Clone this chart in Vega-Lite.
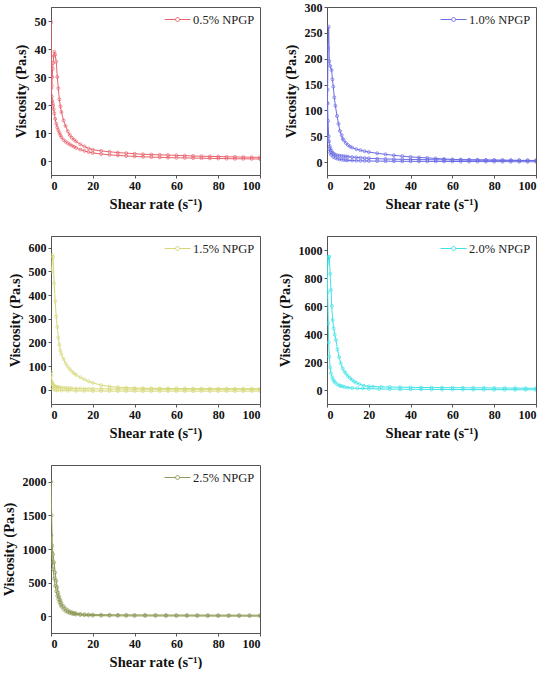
{
  "$schema": "https://vega.github.io/schema/vega-lite/v6.json",
  "padding": {"left": 0, "top": 0, "right": 0, "bottom": 0},
  "datasets": {
    "p1": [
      {"x":0.4,"y":27,"c":"a"},{"x":0.6,"y":30,"c":"a"},{"x":0.8,"y":33,"c":"a"},{"x":1,"y":35,"c":"a"},{"x":1.3,"y":37.5,"c":"a"},{"x":1.6,"y":39,"c":"a"},{"x":2,"y":38,"c":"a"},{"x":2.5,"y":35.5,"c":"a"},{"x":3,"y":30,"c":"a"},{"x":3.5,"y":26,"c":"a"},{"x":4,"y":22,"c":"a"},{"x":4.5,"y":19.5,"c":"a"},{"x":5,"y":17.5,"c":"a"},{"x":6,"y":14.5,"c":"a"},{"x":7,"y":12.5,"c":"a"},{"x":8,"y":10.6,"c":"a"},{"x":9,"y":9.3,"c":"a"},{"x":10,"y":8.3,"c":"a"},{"x":11,"y":7.6,"c":"a"},{"x":12,"y":7,"c":"a"},{"x":14,"y":6,"c":"a"},{"x":16,"y":5.2,"c":"a"},{"x":18,"y":4.5,"c":"a"},{"x":20,"y":4,"c":"a"},{"x":24,"y":3.6,"c":"a"},{"x":28,"y":3.3,"c":"a"},{"x":32,"y":3,"c":"a"},{"x":36,"y":2.8,"c":"a"},{"x":40,"y":2.6,"c":"a"},{"x":44,"y":2.4,"c":"a"},{"x":48,"y":2.3,"c":"a"},{"x":52,"y":2.2,"c":"a"},{"x":56,"y":2.1,"c":"a"},{"x":60,"y":2,"c":"a"},{"x":64,"y":1.9,"c":"a"},{"x":68,"y":1.8,"c":"a"},{"x":72,"y":1.7,"c":"a"},{"x":76,"y":1.65,"c":"a"},{"x":80,"y":1.6,"c":"a"},{"x":84,"y":1.5,"c":"a"},{"x":88,"y":1.45,"c":"a"},{"x":92,"y":1.4,"c":"a"},{"x":96,"y":1.35,"c":"a"},{"x":100,"y":1.3,"c":"a"},
      {"x":0.1,"y":49.5,"c":"b"},{"x":0.2,"y":26,"c":"b"},{"x":0.4,"y":23,"c":"b"},{"x":0.6,"y":21.5,"c":"b"},{"x":0.8,"y":20.5,"c":"b"},{"x":1,"y":19.8,"c":"b"},{"x":1.3,"y":18.5,"c":"b"},{"x":1.6,"y":17,"c":"b"},{"x":2,"y":15,"c":"b"},{"x":2.5,"y":13.3,"c":"b"},{"x":3,"y":12,"c":"b"},{"x":3.5,"y":11,"c":"b"},{"x":4,"y":10,"c":"b"},{"x":4.5,"y":9.2,"c":"b"},{"x":5,"y":8.5,"c":"b"},{"x":6,"y":7.5,"c":"b"},{"x":7,"y":6.9,"c":"b"},{"x":8,"y":6.4,"c":"b"},{"x":9,"y":5.9,"c":"b"},{"x":10,"y":5.5,"c":"b"},{"x":11,"y":5.1,"c":"b"},{"x":12,"y":4.7,"c":"b"},{"x":14,"y":4.1,"c":"b"},{"x":16,"y":3.6,"c":"b"},{"x":18,"y":3.2,"c":"b"},{"x":20,"y":2.9,"c":"b"},{"x":24,"y":2.5,"c":"b"},{"x":28,"y":2.2,"c":"b"},{"x":32,"y":2,"c":"b"},{"x":36,"y":1.8,"c":"b"},{"x":40,"y":1.65,"c":"b"},{"x":44,"y":1.5,"c":"b"},{"x":48,"y":1.4,"c":"b"},{"x":52,"y":1.3,"c":"b"},{"x":56,"y":1.2,"c":"b"},{"x":60,"y":1.15,"c":"b"},{"x":64,"y":1.1,"c":"b"},{"x":68,"y":1.05,"c":"b"},{"x":72,"y":1,"c":"b"},{"x":76,"y":0.95,"c":"b"},{"x":80,"y":0.9,"c":"b"},{"x":84,"y":0.85,"c":"b"},{"x":88,"y":0.8,"c":"b"},{"x":92,"y":0.78,"c":"b"},{"x":96,"y":0.75,"c":"b"},{"x":100,"y":0.7,"c":"b"}
    ],
    "p2": [
      {"x":0.1,"y":40,"c":"a"},{"x":0.3,"y":140,"c":"a"},{"x":0.5,"y":220,"c":"a"},{"x":0.8,"y":262,"c":"a"},{"x":1.1,"y":195,"c":"a"},{"x":1.5,"y":186,"c":"a"},{"x":2.2,"y":178,"c":"a"},{"x":2.6,"y":160,"c":"a"},{"x":3,"y":146,"c":"a"},{"x":3.5,"y":125,"c":"a"},{"x":4,"y":109,"c":"a"},{"x":4.8,"y":89,"c":"a"},{"x":5.5,"y":74,"c":"a"},{"x":6.2,"y":60,"c":"a"},{"x":7,"y":52,"c":"a"},{"x":7.5,"y":45,"c":"a"},{"x":8,"y":42,"c":"a"},{"x":9,"y":37,"c":"a"},{"x":10,"y":33,"c":"a"},{"x":11,"y":30,"c":"a"},{"x":12,"y":28,"c":"a"},{"x":14,"y":25,"c":"a"},{"x":16,"y":23,"c":"a"},{"x":18,"y":21,"c":"a"},{"x":20,"y":19.4,"c":"a"},{"x":24,"y":17,"c":"a"},{"x":28,"y":15,"c":"a"},{"x":32,"y":13,"c":"a"},{"x":36,"y":11.5,"c":"a"},{"x":40,"y":10,"c":"a"},{"x":44,"y":9,"c":"a"},{"x":48,"y":8,"c":"a"},{"x":52,"y":7,"c":"a"},{"x":56,"y":6,"c":"a"},{"x":60,"y":5.2,"c":"a"},{"x":64,"y":4.8,"c":"a"},{"x":68,"y":4.5,"c":"a"},{"x":72,"y":4.2,"c":"a"},{"x":76,"y":4,"c":"a"},{"x":80,"y":3.8,"c":"a"},{"x":84,"y":3.6,"c":"a"},{"x":88,"y":3.4,"c":"a"},{"x":92,"y":3.2,"c":"a"},{"x":96,"y":3.1,"c":"a"},{"x":100,"y":3,"c":"a"},
      {"x":0.1,"y":115,"c":"b"},{"x":0.3,"y":113,"c":"b"},{"x":0.5,"y":80,"c":"b"},{"x":0.8,"y":50,"c":"b"},{"x":1,"y":40,"c":"b"},{"x":1.3,"y":31,"c":"b"},{"x":1.6,"y":26,"c":"b"},{"x":2,"y":22,"c":"b"},{"x":2.5,"y":19,"c":"b"},{"x":3,"y":16.5,"c":"b"},{"x":3.5,"y":15,"c":"b"},{"x":4,"y":14,"c":"b"},{"x":5,"y":13,"c":"b"},{"x":6,"y":12.3,"c":"b"},{"x":7,"y":11.8,"c":"b"},{"x":8,"y":11.3,"c":"b"},{"x":9,"y":10.8,"c":"b"},{"x":10,"y":10.4,"c":"b"},{"x":12,"y":9.6,"c":"b"},{"x":14,"y":9,"c":"b"},{"x":16,"y":8.4,"c":"b"},{"x":18,"y":7.8,"c":"b"},{"x":20,"y":7.3,"c":"b"},{"x":24,"y":6.6,"c":"b"},{"x":28,"y":6,"c":"b"},{"x":32,"y":5.6,"c":"b"},{"x":36,"y":5.3,"c":"b"},{"x":40,"y":5,"c":"b"},{"x":44,"y":4.8,"c":"b"},{"x":48,"y":4.6,"c":"b"},{"x":52,"y":4.4,"c":"b"},{"x":56,"y":4.3,"c":"b"},{"x":60,"y":4.1,"c":"b"},{"x":64,"y":4,"c":"b"},{"x":68,"y":3.9,"c":"b"},{"x":72,"y":3.8,"c":"b"},{"x":76,"y":3.7,"c":"b"},{"x":80,"y":3.6,"c":"b"},{"x":84,"y":3.5,"c":"b"},{"x":88,"y":3.4,"c":"b"},{"x":92,"y":3.3,"c":"b"},{"x":96,"y":3.2,"c":"b"},{"x":100,"y":3.1,"c":"b"},
      {"x":1,"y":25,"c":"c"},{"x":1.5,"y":18,"c":"c"},{"x":2,"y":14,"c":"c"},{"x":3,"y":10,"c":"c"},{"x":4,"y":8,"c":"c"},{"x":5,"y":6.5,"c":"c"},{"x":6,"y":5.5,"c":"c"},{"x":7,"y":4.8,"c":"c"},{"x":8,"y":4.2,"c":"c"},{"x":9,"y":3.8,"c":"c"},{"x":10,"y":3.4,"c":"c"},{"x":12,"y":3,"c":"c"},{"x":14,"y":2.7,"c":"c"},{"x":16,"y":2.5,"c":"c"},{"x":18,"y":2.3,"c":"c"},{"x":20,"y":2.1,"c":"c"},{"x":24,"y":1.9,"c":"c"},{"x":28,"y":1.7,"c":"c"},{"x":32,"y":1.6,"c":"c"},{"x":36,"y":1.5,"c":"c"},{"x":40,"y":1.4,"c":"c"},{"x":44,"y":1.35,"c":"c"},{"x":48,"y":1.3,"c":"c"},{"x":52,"y":1.25,"c":"c"},{"x":56,"y":1.2,"c":"c"},{"x":60,"y":1.15,"c":"c"},{"x":64,"y":1.1,"c":"c"},{"x":68,"y":1.05,"c":"c"},{"x":72,"y":1,"c":"c"},{"x":76,"y":0.95,"c":"c"},{"x":80,"y":0.9,"c":"c"},{"x":84,"y":0.85,"c":"c"},{"x":88,"y":0.8,"c":"c"},{"x":92,"y":0.75,"c":"c"},{"x":96,"y":0.7,"c":"c"},{"x":100,"y":0.7,"c":"c"}
    ],
    "p3": [
      {"x":0.3,"y":500,"c":"a"},{"x":0.6,"y":570,"c":"a"},{"x":1,"y":560,"c":"a"},{"x":1.5,"y":450,"c":"a"},{"x":2,"y":375,"c":"a"},{"x":2.5,"y":310,"c":"a"},{"x":3,"y":265,"c":"a"},{"x":3.5,"y":220,"c":"a"},{"x":4,"y":190,"c":"a"},{"x":4.5,"y":165,"c":"a"},{"x":5,"y":150,"c":"a"},{"x":6,"y":130,"c":"a"},{"x":7,"y":112,"c":"a"},{"x":8,"y":98,"c":"a"},{"x":9,"y":87,"c":"a"},{"x":10,"y":77,"c":"a"},{"x":11,"y":70,"c":"a"},{"x":12,"y":63,"c":"a"},{"x":14,"y":53,"c":"a"},{"x":16,"y":44,"c":"a"},{"x":18,"y":36,"c":"a"},{"x":20,"y":29,"c":"a"},{"x":24,"y":20,"c":"a"},{"x":28,"y":14,"c":"a"},{"x":32,"y":11,"c":"a"},{"x":36,"y":9,"c":"a"},{"x":40,"y":7.5,"c":"a"},{"x":44,"y":6.8,"c":"a"},{"x":48,"y":6.3,"c":"a"},{"x":52,"y":6,"c":"a"},{"x":56,"y":5.7,"c":"a"},{"x":60,"y":5.5,"c":"a"},{"x":64,"y":5.3,"c":"a"},{"x":68,"y":5.1,"c":"a"},{"x":72,"y":5,"c":"a"},{"x":76,"y":4.9,"c":"a"},{"x":80,"y":4.8,"c":"a"},{"x":84,"y":4.7,"c":"a"},{"x":88,"y":4.6,"c":"a"},{"x":92,"y":4.5,"c":"a"},{"x":96,"y":4.4,"c":"a"},{"x":100,"y":4.3,"c":"a"},
      {"x":0.1,"y":75,"c":"b"},{"x":0.2,"y":60,"c":"b"},{"x":0.4,"y":35,"c":"b"},{"x":0.6,"y":27,"c":"b"},{"x":0.8,"y":23,"c":"b"},{"x":1,"y":21,"c":"b"},{"x":1.5,"y":17,"c":"b"},{"x":2,"y":14,"c":"b"},{"x":2.5,"y":12.5,"c":"b"},{"x":3,"y":11.5,"c":"b"},{"x":3.5,"y":11,"c":"b"},{"x":4,"y":10,"c":"b"},{"x":5,"y":9,"c":"b"},{"x":6,"y":8,"c":"b"},{"x":7,"y":7.3,"c":"b"},{"x":8,"y":6.8,"c":"b"},{"x":9,"y":6.4,"c":"b"},{"x":10,"y":6,"c":"b"},{"x":12,"y":5.5,"c":"b"},{"x":14,"y":5,"c":"b"},{"x":16,"y":4.7,"c":"b"},{"x":18,"y":4.4,"c":"b"},{"x":20,"y":4.2,"c":"b"},{"x":24,"y":3.9,"c":"b"},{"x":28,"y":3.6,"c":"b"},{"x":32,"y":3.4,"c":"b"},{"x":36,"y":3.2,"c":"b"},{"x":40,"y":3,"c":"b"},{"x":44,"y":2.9,"c":"b"},{"x":48,"y":2.8,"c":"b"},{"x":52,"y":2.7,"c":"b"},{"x":56,"y":2.6,"c":"b"},{"x":60,"y":2.55,"c":"b"},{"x":64,"y":2.5,"c":"b"},{"x":68,"y":2.45,"c":"b"},{"x":72,"y":2.4,"c":"b"},{"x":76,"y":2.35,"c":"b"},{"x":80,"y":2.3,"c":"b"},{"x":84,"y":2.25,"c":"b"},{"x":88,"y":2.2,"c":"b"},{"x":92,"y":2.15,"c":"b"},{"x":96,"y":2.1,"c":"b"},{"x":100,"y":2,"c":"b"},
      {"x":0.5,"y":10,"c":"c"},{"x":1,"y":3,"c":"c"},{"x":2,"y":-1,"c":"c"},{"x":3,"y":-2.5,"c":"c"},{"x":5,"y":-3.5,"c":"c"},{"x":8,"y":-4,"c":"c"},{"x":12,"y":-4.5,"c":"c"},{"x":16,"y":-4.8,"c":"c"},{"x":20,"y":-5,"c":"c"},{"x":24,"y":-5.1,"c":"c"},{"x":28,"y":-5.2,"c":"c"},{"x":32,"y":-5.3,"c":"c"},{"x":36,"y":-5.4,"c":"c"},{"x":40,"y":-5.5,"c":"c"},{"x":44,"y":-5.5,"c":"c"},{"x":48,"y":-5.5,"c":"c"},{"x":52,"y":-5.5,"c":"c"},{"x":56,"y":-5.5,"c":"c"},{"x":60,"y":-5.5,"c":"c"},{"x":64,"y":-5.5,"c":"c"},{"x":68,"y":-5.5,"c":"c"},{"x":72,"y":-5.5,"c":"c"},{"x":76,"y":-5.5,"c":"c"},{"x":80,"y":-5.5,"c":"c"},{"x":84,"y":-5.5,"c":"c"},{"x":88,"y":-5.5,"c":"c"},{"x":92,"y":-5.5,"c":"c"},{"x":96,"y":-5.5,"c":"c"},{"x":100,"y":-5.5,"c":"c"}
    ],
    "p4": [
      {"x":0.4,"y":900,"c":"a"},{"x":0.8,"y":950,"c":"a"},{"x":1.1,"y":952,"c":"a"},{"x":1.5,"y":830,"c":"a"},{"x":1.9,"y":714,"c":"a"},{"x":2.3,"y":600,"c":"a"},{"x":2.7,"y":500,"c":"a"},{"x":3.2,"y":440,"c":"a"},{"x":3.7,"y":395,"c":"a"},{"x":4.3,"y":357,"c":"a"},{"x":5,"y":290,"c":"a"},{"x":5.8,"y":235,"c":"a"},{"x":6.6,"y":190,"c":"a"},{"x":7.5,"y":155,"c":"a"},{"x":8.3,"y":132,"c":"a"},{"x":9,"y":119,"c":"a"},{"x":10,"y":100,"c":"a"},{"x":11,"y":85,"c":"a"},{"x":12,"y":72,"c":"a"},{"x":13,"y":60,"c":"a"},{"x":14,"y":52,"c":"a"},{"x":15.5,"y":42,"c":"a"},{"x":17.7,"y":30,"c":"a"},{"x":20,"y":26,"c":"a"},{"x":22,"y":24,"c":"a"},{"x":26,"y":22,"c":"a"},{"x":30,"y":21,"c":"a"},{"x":35,"y":20,"c":"a"},{"x":40,"y":19,"c":"a"},{"x":45,"y":18,"c":"a"},{"x":50,"y":17.5,"c":"a"},{"x":55,"y":17,"c":"a"},{"x":60,"y":16.5,"c":"a"},{"x":65,"y":16,"c":"a"},{"x":70,"y":15.5,"c":"a"},{"x":75,"y":15,"c":"a"},{"x":80,"y":14.5,"c":"a"},{"x":85,"y":14,"c":"a"},{"x":90,"y":13.5,"c":"a"},{"x":95,"y":13,"c":"a"},{"x":100,"y":12.5,"c":"a"},
      {"x":0.1,"y":950,"c":"b"},{"x":0.3,"y":700,"c":"b"},{"x":0.6,"y":476,"c":"b"},{"x":0.8,"y":340,"c":"b"},{"x":1.1,"y":238,"c":"b"},{"x":1.5,"y":160,"c":"b"},{"x":1.9,"y":119,"c":"b"},{"x":2.5,"y":90,"c":"b"},{"x":3,"y":72,"c":"b"},{"x":3.5,"y":60,"c":"b"},{"x":4,"y":52,"c":"b"},{"x":5,"y":40,"c":"b"},{"x":6,"y":32,"c":"b"},{"x":6.6,"y":29,"c":"b"},{"x":7.5,"y":25,"c":"b"},{"x":8.5,"y":21,"c":"b"},{"x":10,"y":17,"c":"b"},{"x":12,"y":14,"c":"b"},{"x":14.6,"y":12,"c":"b"},{"x":17,"y":10.5,"c":"b"},{"x":20,"y":9,"c":"b"},{"x":25,"y":7.5,"c":"b"},{"x":30,"y":6.5,"c":"b"},{"x":35,"y":5.5,"c":"b"},{"x":40,"y":5,"c":"b"},{"x":45,"y":4.5,"c":"b"},{"x":50,"y":4,"c":"b"},{"x":55,"y":3.8,"c":"b"},{"x":60,"y":3.5,"c":"b"},{"x":65,"y":3.2,"c":"b"},{"x":70,"y":3,"c":"b"},{"x":75,"y":2.8,"c":"b"},{"x":80,"y":2.5,"c":"b"},{"x":85,"y":2.3,"c":"b"},{"x":90,"y":2,"c":"b"},{"x":95,"y":1.8,"c":"b"},{"x":100,"y":1.5,"c":"b"}
    ],
    "p5": [
      {"x":0.1,"y":2000,"c":"a"},{"x":0.3,"y":1500,"c":"a"},{"x":0.6,"y":1050,"c":"a"},{"x":1,"y":920,"c":"a"},{"x":1.5,"y":800,"c":"a"},{"x":2,"y":650,"c":"a"},{"x":2.5,"y":530,"c":"a"},{"x":3,"y":430,"c":"a"},{"x":3.5,"y":350,"c":"a"},{"x":4,"y":290,"c":"a"},{"x":4.5,"y":240,"c":"a"},{"x":5,"y":200,"c":"a"},{"x":6,"y":150,"c":"a"},{"x":7,"y":115,"c":"a"},{"x":8,"y":90,"c":"a"},{"x":9,"y":72,"c":"a"},{"x":10,"y":60,"c":"a"},{"x":11,"y":50,"c":"a"},{"x":12,"y":43,"c":"a"},{"x":14,"y":34,"c":"a"},{"x":16,"y":29,"c":"a"},{"x":18,"y":26,"c":"a"},{"x":20,"y":24,"c":"a"},{"x":24,"y":22,"c":"a"},{"x":28,"y":21,"c":"a"},{"x":32,"y":20,"c":"a"},{"x":36,"y":19.5,"c":"a"},{"x":40,"y":19,"c":"a"},{"x":45,"y":18.5,"c":"a"},{"x":50,"y":18,"c":"a"},{"x":55,"y":17.5,"c":"a"},{"x":60,"y":17,"c":"a"},{"x":65,"y":16.8,"c":"a"},{"x":70,"y":16.5,"c":"a"},{"x":75,"y":16.2,"c":"a"},{"x":80,"y":16,"c":"a"},{"x":85,"y":15.8,"c":"a"},{"x":90,"y":15.5,"c":"a"},{"x":95,"y":15.2,"c":"a"},{"x":100,"y":15,"c":"a"},
      {"x":0.2,"y":1200,"c":"b"},{"x":0.4,"y":950,"c":"b"},{"x":0.7,"y":800,"c":"b"},{"x":1,"y":700,"c":"b"},{"x":1.5,"y":560,"c":"b"},{"x":2,"y":450,"c":"b"},{"x":2.5,"y":370,"c":"b"},{"x":3,"y":300,"c":"b"},{"x":3.5,"y":250,"c":"b"},{"x":4,"y":205,"c":"b"},{"x":4.5,"y":170,"c":"b"},{"x":5,"y":140,"c":"b"},{"x":6,"y":100,"c":"b"},{"x":7,"y":75,"c":"b"},{"x":8,"y":57,"c":"b"},{"x":9,"y":45,"c":"b"},{"x":10,"y":36,"c":"b"},{"x":11,"y":30,"c":"b"},{"x":12,"y":25,"c":"b"},{"x":14,"y":18,"c":"b"},{"x":16,"y":14,"c":"b"},{"x":18,"y":11,"c":"b"},{"x":20,"y":9,"c":"b"},{"x":24,"y":7,"c":"b"},{"x":28,"y":6,"c":"b"},{"x":32,"y":5,"c":"b"},{"x":36,"y":4.5,"c":"b"},{"x":40,"y":4,"c":"b"},{"x":45,"y":3.8,"c":"b"},{"x":50,"y":3.5,"c":"b"},{"x":55,"y":3.2,"c":"b"},{"x":60,"y":3,"c":"b"},{"x":65,"y":2.8,"c":"b"},{"x":70,"y":2.5,"c":"b"},{"x":75,"y":2.2,"c":"b"},{"x":80,"y":2,"c":"b"},{"x":85,"y":1.8,"c":"b"},{"x":90,"y":1.5,"c":"b"},{"x":95,"y":1.2,"c":"b"},{"x":100,"y":1,"c":"b"}
    ]
  },
  "columns": 2,
  "spacing": {"row": 24, "column": 15},
  "resolve": {"scale": {"color": "independent"}, "legend": {"color": "independent"}},
  "concat": [
    {
      "width": 209, "height": 168,
      "data": {"name": "p1"},
      "mark": {"type": "line", "strokeWidth": 1, "clip": true, "point": {"filled": false, "size": 9, "strokeWidth": 0.7}},
      "encoding": {
        "x": {"field": "x", "type": "quantitative", "scale": {"domain": [0, 100], "nice": false}, "axis": {"values": [0, 20, 40, 60, 80, 100], "title": "Shear rate (s⁻¹)"}},
        "y": {"field": "y", "type": "quantitative", "scale": {"domain": [-5, 55], "nice": false, "zero": false}, "axis": {"values": [0, 10, 20, 30, 40, 50], "format": "d", "title": "Viscosity (Pa.s)"}},
        "color": {"datum": "0.5% NPGP", "type": "nominal", "scale": {"range": ["#e9636d"]}, "legend": {"title": null, "orient": "top-right"}},
        "detail": {"field": "c"}
      }
    },
    {
      "width": 209, "height": 168,
      "data": {"name": "p2"},
      "mark": {"type": "line", "strokeWidth": 1, "clip": true, "point": {"filled": false, "size": 9, "strokeWidth": 0.7}},
      "encoding": {
        "x": {"field": "x", "type": "quantitative", "scale": {"domain": [0, 100], "nice": false}, "axis": {"values": [0, 20, 40, 60, 80, 100], "title": "Shear rate (s⁻¹)"}},
        "y": {"field": "y", "type": "quantitative", "scale": {"domain": [-25, 300], "nice": false, "zero": false}, "axis": {"values": [0, 50, 100, 150, 200, 250, 300], "format": "d", "title": "Viscosity (Pa.s)"}},
        "color": {"datum": "1.0% NPGP", "type": "nominal", "scale": {"range": ["#6c6ce6"]}, "legend": {"title": null, "orient": "top-right"}},
        "detail": {"field": "c"}
      }
    },
    {
      "width": 209, "height": 168,
      "data": {"name": "p3"},
      "mark": {"type": "line", "strokeWidth": 1, "clip": true, "point": {"filled": false, "size": 9, "strokeWidth": 0.7}},
      "encoding": {
        "x": {"field": "x", "type": "quantitative", "scale": {"domain": [0, 100], "nice": false}, "axis": {"values": [0, 20, 40, 60, 80, 100], "title": "Shear rate (s⁻¹)"}},
        "y": {"field": "y", "type": "quantitative", "scale": {"domain": [-60, 650], "nice": false, "zero": false}, "axis": {"values": [0, 100, 200, 300, 400, 500, 600], "format": "d", "title": "Viscosity (Pa.s)"}},
        "color": {"datum": "1.5% NPGP", "type": "nominal", "scale": {"range": ["#d6d878"]}, "legend": {"title": null, "orient": "top-right"}},
        "detail": {"field": "c"}
      }
    },
    {
      "width": 209, "height": 168,
      "data": {"name": "p4"},
      "mark": {"type": "line", "strokeWidth": 1, "clip": true, "point": {"filled": false, "size": 9, "strokeWidth": 0.7}},
      "encoding": {
        "x": {"field": "x", "type": "quantitative", "scale": {"domain": [0, 100], "nice": false}, "axis": {"values": [0, 20, 40, 60, 80, 100], "title": "Shear rate (s⁻¹)"}},
        "y": {"field": "y", "type": "quantitative", "scale": {"domain": [-100, 1100], "nice": false, "zero": false}, "axis": {"values": [0, 200, 400, 600, 800, 1000], "format": "d", "title": "Viscosity (Pa.s)"}},
        "color": {"datum": "2.0% NPGP", "type": "nominal", "scale": {"range": ["#3fe2e6"]}, "legend": {"title": null, "orient": "top-right"}},
        "detail": {"field": "c"}
      }
    },
    {
      "width": 209, "height": 168,
      "data": {"name": "p5"},
      "mark": {"type": "line", "strokeWidth": 1, "clip": true, "point": {"filled": false, "size": 9, "strokeWidth": 0.7}},
      "encoding": {
        "x": {"field": "x", "type": "quantitative", "scale": {"domain": [0, 100], "nice": false}, "axis": {"values": [0, 20, 40, 60, 80, 100], "title": "Shear rate (s⁻¹)"}},
        "y": {"field": "y", "type": "quantitative", "scale": {"domain": [-250, 2250], "nice": false, "zero": false}, "axis": {"values": [0, 500, 1000, 1500, 2000], "format": "d", "title": "Viscosity (Pa.s)"}},
        "color": {"datum": "2.5% NPGP", "type": "nominal", "scale": {"range": ["#8c9a56"]}, "legend": {"title": null, "orient": "top-right"}},
        "detail": {"field": "c"}
      }
    }
  ],
  "config": {
    "font": "Liberation Serif",
    "view": {"stroke": "#555555", "strokeWidth": 1},
    "axis": {
      "grid": false, "domainColor": "#555555", "tickColor": "#555555", "tickSize": 3,
      "labelFont": "Liberation Serif", "labelFontSize": 12, "labelFontWeight": "bold", "labelColor": "#111111", "labelPadding": 2,
      "titleFont": "Liberation Serif", "titleFontSize": 14.5, "titleFontWeight": "bold", "titleColor": "#111111", "titlePadding": 6
    },
    "axisX": {"titlePadding": 6},
    "legend": {
      "orient": "top-right", "offset": 4, "padding": 1,
      "symbolType": "M-2.7,0L-1.13,0M-0.57,0L1,0M-1.13,0A0.28,0.28,0,1,1,-0.57,0A0.28,0.28,0,1,1,-1.13,0",
      "symbolSize": 196, "symbolStrokeWidth": 1, "symbolFillColor": "white",
      "labelFont": "Liberation Serif", "labelFontSize": 12.5, "labelFontWeight": "normal", "labelColor": "#222222", "labelOffset": 2
    }
  }
}
